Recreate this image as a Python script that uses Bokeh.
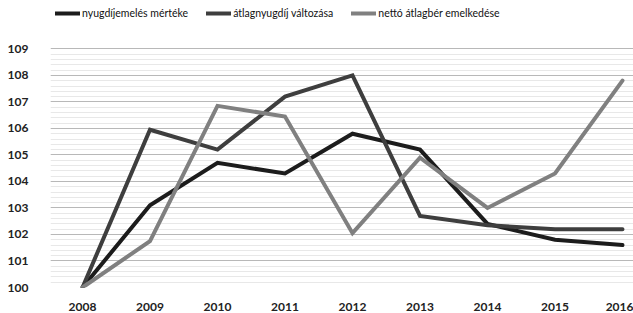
from bokeh.plotting import figure
from bokeh.models import Range1d, FixedTicker, Legend, LegendItem
from bokeh.embed import file_html
from bokeh.resources import INLINE

years = [2008, 2009, 2010, 2011, 2012, 2013, 2014, 2015, 2016]
nyugdijemeles = [100, 103.1, 104.7, 104.3, 105.8, 105.2, 102.4, 101.8, 101.6]
atlagnyugdij = [100, 105.95, 105.2, 107.2, 108.0, 102.7, 102.35, 102.2, 102.2]
netto_atlagber = [100, 101.75, 106.85, 106.45, 102.05, 104.9, 103.0, 104.3, 107.8]
series_names = ["nyugdíjemelés mértéke", "átlagnyugdíj változása", "nettó átlagbér emelkedése"]
y_ticks = [100, 101, 102, 103, 104, 105, 106, 107, 108, 109]

FONT = "Lato"

# top of range leaves headroom for the legend row above the 109 gridline
p = figure(width=633, height=313, output_backend="svg", toolbar_location=None,
           x_range=Range1d(2007.526, 2016.163), y_range=Range1d(100, 110.674),
           min_border_left=50, min_border_right=0, min_border_top=4, min_border_bottom=22)
p.outline_line_color = None
p.background_fill_color = "white"
p.border_fill_color = "white"

p.xaxis.ticker = FixedTicker(ticks=years)
p.yaxis.ticker = FixedTicker(ticks=y_ticks, minor_ticks=[v / 5 for v in range(500, 545)])
for ax in (p.xaxis[0], p.yaxis[0]):
    ax.axis_line_color = None
    ax.major_tick_line_color = None
    ax.minor_tick_line_color = None
    ax.major_label_text_font = FONT
    ax.major_label_text_font_size = "12px"
    ax.major_label_text_color = "#222222"
    ax.major_label_text_font_style = "bold"
p.yaxis.major_label_standoff = 16
p.xaxis.major_label_standoff = 9

p.xgrid.grid_line_color = None
p.ygrid.grid_line_color = "#b8b8b8"
p.ygrid.grid_line_width = 1
p.ygrid.minor_grid_line_color = "#e8e8e8"
p.ygrid.minor_grid_line_width = 1

colors = ["#1c1c1c", "#3e3e3e", "#808080"]
data = [nyugdijemeles, atlagnyugdij, netto_atlagber]
items = []
for name, vals, c in zip(series_names, data, colors):
    r = p.line(years, vals, line_color=c, line_width=4, line_cap="round", line_join="miter")
    items.append(LegendItem(label=name, renderers=[r]))

legend = Legend(items=items, orientation="horizontal", location=(5, 267),
                background_fill_alpha=0, border_line_color=None,
                label_text_font=FONT, label_text_font_size="10.5px", label_text_color="#111111",
                glyph_width=25, glyph_height=14, label_standoff=2, spacing=18,
                padding=0, margin=0, label_height=14)
p.add_layout(legend, "center")

open("out.html", "w").write(file_html(p, INLINE))
